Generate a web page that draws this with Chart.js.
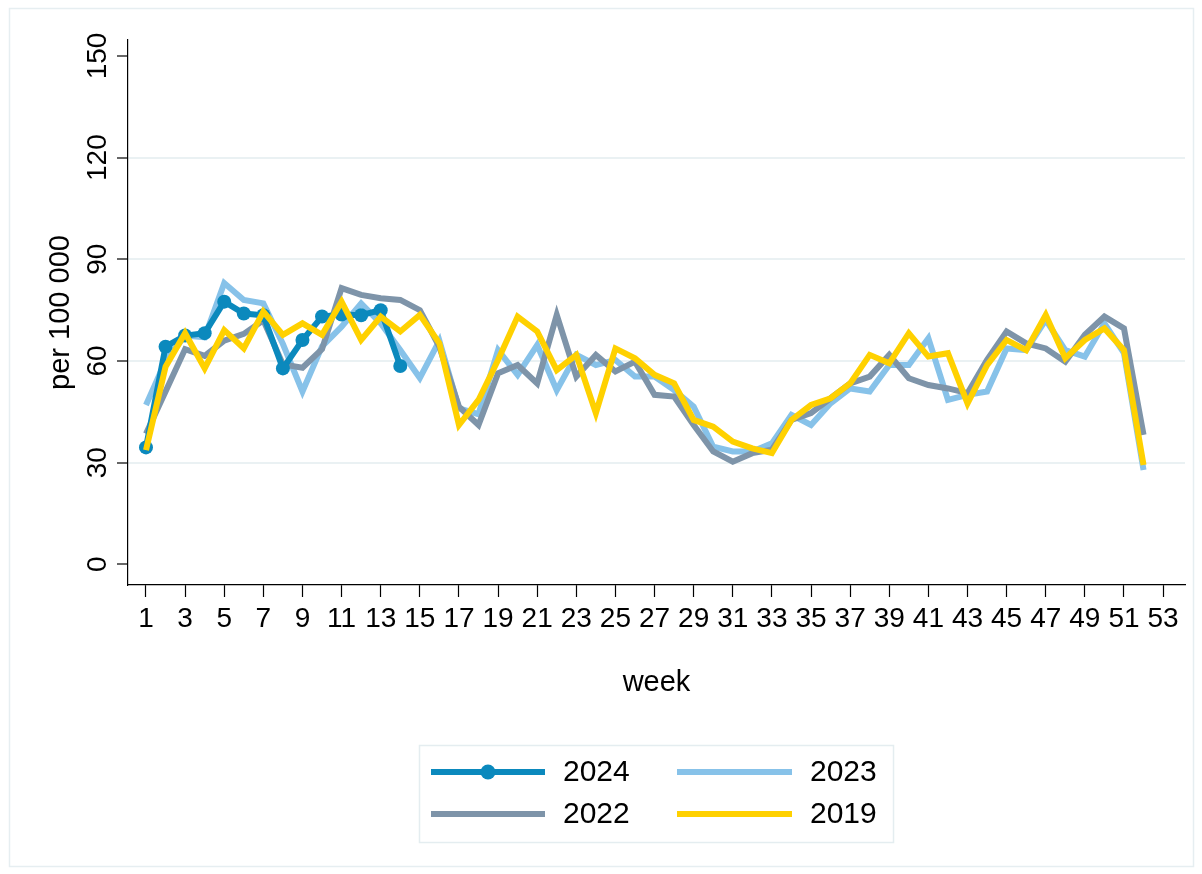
<!DOCTYPE html>
<html>
<head>
<meta charset="utf-8">
<script src="https://cdn.jsdelivr.net/npm/chart.js@4/dist/chart.umd.min.js"></script>
<style>
  html, body { margin: 0; padding: 0; background: #fff; }
  #wrap { width: 1202px; height: 874px; }
</style>
</head>
<body>
<div id="wrap"><canvas id="myChart" width="1202" height="874"></canvas></div>
<script>
// weekly rates per 100 000
var weeks = [1,2,3,4,5,6,7,8,9,10,11,12,13,14,15,16,17,18,19,20,21,22,23,24,25,26,
             27,28,29,30,31,32,33,34,35,36,37,38,39,40,41,42,43,44,45,46,47,48,49,50,51,52];
var weekTicks = [1,3,5,7,9,11,13,15,17,19,21,23,25,27,29,31,33,35,37,39,41,43,45,47,49,51,53];
var yTicks = [0, 30, 60, 90, 120, 150];

var rate2024 = [34.5, 64.2, 67.5, 68.2, 77.5, 74.0, 73.5, 57.8, 66.2, 73.1, 73.7, 73.5, 75.0, 58.5];
var rate2023 = [47.0, 60.0, 67.5, 67.0, 83.0, 78.0, 77.0, 65.0, 51.0, 64.3, 70.1, 77.0, 71.1, 63.2, 55.0, 66.0,
                46.0, 44.3, 63.2, 55.9, 64.7, 51.4, 61.8, 58.8, 60.3, 55.4, 55.4, 51.4, 46.5, 34.7, 33.3, 33.3,
                35.7, 44.1, 41.1, 47.5, 51.9, 51.0, 58.8, 58.8, 66.7, 48.5, 50.0, 51.0, 63.7, 63.2, 72.1, 63.2,
                61.3, 71.1, 62.3, 27.8];
var rate2022 = [38.5, 51.0, 63.5, 61.5, 66.0, 68.0, 72.0, 59.0, 58.0, 63.5, 81.5, 79.5, 78.5, 78.0, 75.0, 64.2,
                46.5, 41.1, 56.4, 58.8, 53.4, 73.6, 55.4, 61.8, 56.9, 59.8, 50.0, 49.5, 41.1, 33.3, 30.3, 32.8,
                33.8, 42.6, 44.6, 49.0, 53.4, 55.4, 61.8, 54.9, 52.9, 51.9, 50.5, 60.3, 68.7, 65.2, 63.7, 59.8,
                67.7, 73.1, 69.6, 38.2];
var rate2019 = [33.7, 58.3, 68.2, 57.8, 69.1, 63.7, 74.6, 67.7, 71.1, 67.7, 77.5, 66.2, 73.1, 68.7, 73.6, 65.2,
                41.1, 48.5, 60.3, 73.1, 68.7, 57.3, 61.8, 44.6, 63.7, 60.8, 55.9, 53.4, 42.6, 40.6, 36.2, 34.2,
                32.8, 42.6, 47.0, 49.0, 53.4, 61.8, 59.3, 68.2, 61.3, 62.3, 47.5, 58.8, 66.2, 63.2, 73.6, 60.8,
                66.2, 69.6, 63.2, 29.3];

var seriesNames = ['2024', '2023', '2022', '2019'];
var FONT = '"Liberation Sans", Arial, sans-serif';

function lineSet(label, values, color, width, dots) {
    return {
        label: label,
        data: values,
        borderColor: color,
        backgroundColor: color,
        borderWidth: width,
        pointRadius: dots ? 7 : 0,
        pointBorderWidth: 0,
        pointBackgroundColor: color,
        tension: 0,
        fill: false
    };
}

// first dataset is painted last (on top)
var datasets = [
    lineSet('2019', rate2019, '#ffd100', 6, false),
    lineSet('2024', rate2024, '#0b89bd', 6, true),
    lineSet('2022', rate2022, '#7e94a9', 6, false),
    lineSet('2023', rate2023, '#87c2e9', 6, false)
];

// rotated y labels, legend box and outer frame
var extras = {
    id: 'extras',
    beforeDraw: function(chart) {
        var ctx = chart.ctx;
        ctx.save();
        ctx.fillStyle = '#fff';
        ctx.fillRect(0, 0, chart.width, chart.height);
        ctx.strokeStyle = '#e6eef1';
        ctx.lineWidth = 1.5;
        ctx.strokeRect(9.5, 8.5, 1184, 858);
        ctx.restore();
    },
    afterDraw: function(chart) {
        var ctx = chart.ctx;
        var yScale = chart.scales.y;
        ctx.save();
        ctx.fillStyle = '#000';
        ctx.font = '28px ' + FONT;
        ctx.textAlign = 'center';
        ctx.textBaseline = 'alphabetic';
        yTicks.forEach(function(v) {
            ctx.save();
            ctx.translate(106, yScale.getPixelForValue(v));
            ctx.rotate(-Math.PI / 2);
            ctx.fillText(String(v), 0, 0);
            ctx.restore();
        });

        // legend
        ctx.strokeStyle = '#e4edf0';
        ctx.lineWidth = 1.5;
        ctx.strokeRect(419.5, 745.5, 474, 97);
        var cols = [[431, 545, 563], [677, 792, 810]];
        var rows = [772, 814];
        ctx.font = '30px ' + FONT;
        ctx.textAlign = 'left';
        ctx.textBaseline = 'middle';
        seriesNames.forEach(function(name, i) {
            var ds = datasets.find(function(d) { return d.label === name; });
            var c = cols[i % 2], y = rows[Math.floor(i / 2)];
            ctx.strokeStyle = ds.borderColor;
            ctx.lineWidth = ds.borderWidth;
            ctx.beginPath();
            ctx.moveTo(c[0], y);
            ctx.lineTo(c[1], y);
            ctx.stroke();
            if (ds.pointRadius) {
                ctx.fillStyle = ds.borderColor;
                ctx.beginPath();
                ctx.arc((c[0] + c[1]) / 2, y, 7.5, 0, Math.PI * 2);
                ctx.fill();
            }
            ctx.fillStyle = '#000';
            ctx.fillText(name, c[2], y + 1);
        });
        ctx.restore();
    }
};

var ctx = document.getElementById('myChart').getContext('2d');
var chart = new Chart(ctx, {
    type: 'line',
    data: {
        labels: weeks,
        datasets: datasets
    },
    options: {
        responsive: false,
        animation: false,
        events: [],
        layout: { padding: { left: 0, right: 17, top: 40, bottom: 0 } },
        plugins: {
            legend: { display: false },
            tooltip: { enabled: false }
        },
        scales: {
            x: {
                type: 'linear',
                min: 0.08,
                max: 54.12,
                afterBuildTicks: function(s) {
                    s.ticks = weekTicks.map(function(v) { return { value: v }; });
                },
                afterFit: function(s) { s.height = 289; },
                ticks: {
                    autoSkip: false,
                    maxRotation: 0,
                    minRotation: 0,
                    padding: 5,
                    color: '#000',
                    font: { family: FONT, size: 28 },
                    callback: function(v) { return String(v); }
                },
                grid: {
                    drawOnChartArea: false,
                    drawTicks: true,
                    tickLength: 12,
                    tickColor: '#000',
                    tickWidth: 1.2
                },
                border: { display: true, color: '#000', width: 1.2 },
                title: {
                    display: true,
                    text: 'week',
                    color: '#000',
                    font: { family: FONT, size: 29 },
                    padding: { top: 0, bottom: 174 }
                }
            },
            y: {
                min: -6.1,
                max: 154.7,
                afterBuildTicks: function(s) {
                    s.ticks = yTicks.map(function(v) { return { value: v }; });
                },
                afterFit: function(s) { s.width = 128; },
                ticks: { display: false },
                grid: {
                    drawTicks: true,
                    tickLength: 11,
                    tickColor: '#000',
                    tickWidth: 1.2,
                    lineWidth: 2,
                    color: function(c) {
                        var v = c.tick ? c.tick.value : null;
                        return (v === 0 || v === 150) ? 'rgba(0,0,0,0)' : '#eaf1f3';
                    }
                },
                border: { display: true, color: '#000', width: 1.2 },
                title: {
                    display: true,
                    text: 'per 100 000',
                    color: '#000',
                    font: { family: FONT, size: 29 },
                    padding: { top: 44, bottom: 0 }
                }
            }
        }
    },
    plugins: [extras]
});
</script>
</body>
</html>
